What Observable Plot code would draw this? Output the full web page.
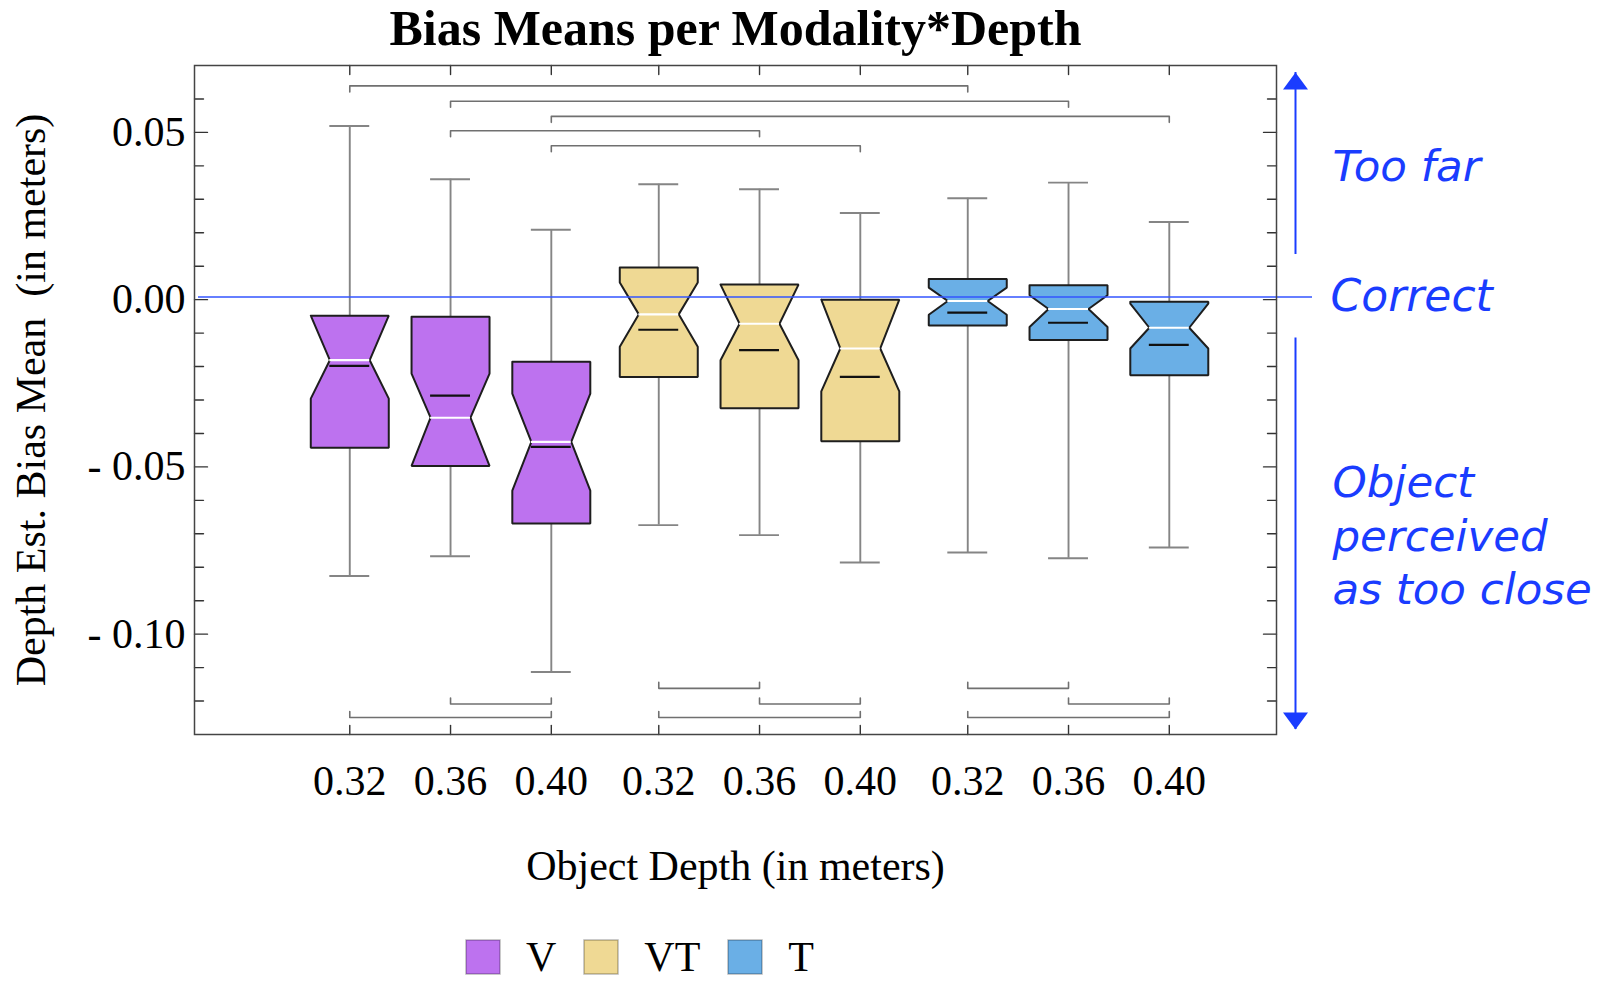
<!DOCTYPE html>
<html><head><meta charset="utf-8">
<script src="https://cdn.jsdelivr.net/npm/d3@7"></script>
<script src="https://cdn.jsdelivr.net/npm/@observablehq/plot@0.6"></script>
<style>
html,body{margin:0;padding:0;background:#fff;overflow:hidden;}
.leg-swatches{font-family:"Liberation Serif","Times New Roman",serif;font-size:42px;margin:0;padding:0;color:#000;line-height:40px;}
.leg-swatch{margin-right:28px;}
.leg-swatch > svg{margin-right:26px;}
.leg-swatch rect{stroke:rgba(0,0,0,0.28);stroke-width:1.5px;}
</style></head><body><div id="chart"></div>
<script>
// ---- data ----
const modalities = ["V", "VT", "T"];
const modalityColors = ["#bd72ef", "#efd994", "#6aafe6"];
const boxModality = ["V", "V", "V", "VT", "VT", "VT", "T", "T", "T"];
const boxDepth = ["0.32", "0.36", "0.40", "0.32", "0.36", "0.40", "0.32", "0.36", "0.40"];
const whiskerHigh = [0.0519, 0.0360, 0.0209, 0.0345, 0.0330, 0.0259, 0.0303, 0.0350, 0.0232];
const q3 = [-0.0048, -0.0051, -0.0186, 0.0096, 0.0045, 0.0000, 0.0062, 0.0043, -0.0006];
const notchHigh = [-0.0048, -0.0221, -0.0281, 0.0051, 0.0045, 0.0000, 0.0036, 0.0013, -0.0012];
const median = [-0.0181, -0.0353, -0.0425, -0.0044, -0.0072, -0.0146, -0.0004, -0.0028, -0.0084];
const mean = [-0.0198, -0.0287, -0.0440, -0.0090, -0.0151, -0.0231, -0.0039, -0.0069, -0.0135];
const notchLow = [-0.0296, -0.0497, -0.0571, -0.0141, -0.0181, -0.0274, -0.0045, -0.0082, -0.0146];
const q1 = [-0.0443, -0.0497, -0.0669, -0.0231, -0.0325, -0.0423, -0.0077, -0.0121, -0.0226];
const whiskerLow = [-0.0826, -0.0767, -0.1113, -0.0674, -0.0704, -0.0786, -0.0756, -0.0773, -0.0741];

const bracketTopFrom = [0, 1, 2, 1, 2];
const bracketTopTo = [6, 7, 8, 4, 5];
const bracketTopLevel = [0.0639, 0.0593, 0.0548, 0.0505, 0.0460];
const bracketBottomFrom = [1, 0, 3, 4, 3, 6, 7, 6];
const bracketBottomTo = [2, 2, 4, 5, 5, 7, 8, 8];
const bracketBottomLevel = [-0.1209, -0.1249, -0.1162, -0.1209, -0.1249, -0.1162, -0.1209, -0.1249];

const correctLevel = 0.0008;
const correctLabel = "Correct";
const arrowFrom = [0.0135, -0.0115];
const arrowTo = [0.0679, -0.1285];
const arrowLabels = ["Too far", "Object\nperceived\nas too close"];

const yTickValues = [-0.10, -0.05, 0.00, 0.05];
const yTickLabels = ["- 0.10", "- 0.05", "0.00", "0.05"];
const title = "Bias Means per Modality*Depth";
const xTitle = "Object Depth (in meters)";
const yTitle = "Depth Est. Bias Mean\u00a0 (in meters)";

// ---- layout ----
const groupStep = 3.0665;
const pos = i => Math.floor(i / 3) * groupStep + (i % 3);
const xDomain = [-1.541, 9.197];
const yDomain = [-0.13, 0.07];
const boxHalf = 0.387, notchHalf = 0.198, capHalf = 0.198;
const yPerPx = (yDomain[1] - yDomain[0]) / 669;
const bracketTick = 6 * yPerPx;
const blue = "#1a3cff";
const serif = "Liberation Serif";

const boxes = boxModality.map((m, i) => ({
  i, modality: m, depth: boxDepth[i], x: pos(i),
  wHi: whiskerHigh[i], q3: q3[i], nHi: notchHigh[i], med: median[i], mean: mean[i],
  nLo: notchLow[i], q1: q1[i], wLo: whiskerLow[i]
}));

const outline = boxes.flatMap(b => {
  const L = b.x - boxHalf, R = b.x + boxHalf, nl = b.x - notchHalf, nr = b.x + notchHalf;
  return [[L, b.q3], [R, b.q3], [R, b.nHi], [nr, b.med], [R, b.nLo], [R, b.q1],
          [L, b.q1], [L, b.nLo], [nl, b.med], [L, b.nHi], [L, b.q3]]
    .map(([x, y]) => ({id: b.i, modality: b.modality, x, y}));
});

const brackets = [];
bracketTopFrom.forEach((f, k) => {
  const a = pos(f), b = pos(bracketTopTo[k]), l = bracketTopLevel[k];
  [[a, l - bracketTick], [a, l], [b, l], [b, l - bracketTick]].forEach(([x, y]) => brackets.push({id: "t" + k, x, y}));
});
bracketBottomFrom.forEach((f, k) => {
  const a = pos(f), b = pos(bracketBottomTo[k]), l = bracketBottomLevel[k];
  [[a, l + bracketTick], [a, l], [b, l], [b, l + bracketTick]].forEach(([x, y]) => brackets.push({id: "b" + k, x, y}));
});

const arrows = arrowFrom.map((f, i) => ({from: f, to: arrowTo[i], label: arrowLabels[i]}));

const minorY = d3.range(-12, 7).map(k => k / 100).filter(v => !yTickValues.some(t => Math.abs(t - v) < 1e-9));
const tickShape = {draw(context, l) { context.moveTo(0, 0); context.lineTo(0, -l); }};
const headShape = {draw(context) { context.moveTo(0, 0); context.lineTo(12.5, 17); context.lineTo(-12.5, 17); context.closePath(); }};
const tickStyle = {anchor: "start", shape: tickShape, stroke: "#333", strokeWidth: 1.4};

const chart = Plot.plot({
  width: 1607, height: 937,
  marginTop: 65, marginBottom: 203, marginLeft: 194, marginRight: 331,
  x: {domain: xDomain, axis: null},
  y: {domain: yDomain, axis: null},
  color: {domain: modalities, range: modalityColors},
  style: {fontFamily: serif, background: "white", overflow: "visible"},
  marks: [
    // frame ticks
    Plot.vector(yTickValues, {y: d => d, frameAnchor: "left", rotate: 90, length: 13, ...tickStyle}),
    Plot.vector(minorY, {y: d => d, frameAnchor: "left", rotate: 90, length: 9, ...tickStyle}),
    Plot.vector(yTickValues, {y: d => d, frameAnchor: "right", rotate: -90, length: 13, ...tickStyle}),
    Plot.vector(minorY, {y: d => d, frameAnchor: "right", rotate: -90, length: 9, ...tickStyle}),
    Plot.vector(boxes, {x: "x", frameAnchor: "bottom", rotate: 0, length: 9, ...tickStyle}),
    Plot.vector(boxes, {x: "x", frameAnchor: "top", rotate: 180, length: 9, ...tickStyle}),
    // brackets
    Plot.line(brackets, {x: "x", y: "y", z: "id", stroke: "#707070", strokeWidth: 1.6}),
    // whiskers
    Plot.ruleX(boxes, {x: "x", y1: "wLo", y2: "wHi", stroke: "#858585", strokeWidth: 1.9}),
    Plot.ruleY(boxes, {y: "wHi", x1: d => d.x - capHalf, x2: d => d.x + capHalf, stroke: "#858585", strokeWidth: 1.9}),
    Plot.ruleY(boxes, {y: "wLo", x1: d => d.x - capHalf, x2: d => d.x + capHalf, stroke: "#858585", strokeWidth: 1.9}),
    // notched boxes
    Plot.line(outline, {x: "x", y: "y", z: "id", fill: "modality", stroke: "#1e1e1e", strokeWidth: 2, strokeLinejoin: "miter"}),
    Plot.ruleY(boxes, {y: "med", x1: d => d.x - notchHalf, x2: d => d.x + notchHalf, stroke: "white", strokeWidth: 2.2}),
    Plot.ruleY(boxes, {y: "mean", x1: d => d.x - notchHalf, x2: d => d.x + notchHalf, stroke: "#111", strokeWidth: 2.2}),
    // correct line
    Plot.ruleY([correctLevel], {y: d => d, insetLeft: 4, insetRight: -36, stroke: "#3355ff", strokeWidth: 1.5}),
    Plot.frame({stroke: "#444", strokeWidth: 1.5}),
    // annotation arrows
    Plot.ruleX(arrows, {x: () => xDomain[1], y1: "from", y2: "to", dx: 19, stroke: blue, strokeWidth: 2}),
    Plot.dot(arrows, {x: () => xDomain[1], y: "to", dx: 19, symbol: headShape, rotate: d => d.to > d.from ? 0 : 180, fill: blue, stroke: "none"}),
    Plot.text(arrows, {x: () => xDomain[1], y: d => (d.from + d.to) / 2, text: "label", dx: 56, textAnchor: "start", lineAnchor: "middle", lineHeight: 1.23, fontFamily: "DejaVu Sans", fontStyle: "italic", fontSize: 43.5, fill: blue}),
    Plot.text([correctLabel], {x: () => xDomain[1], y: () => correctLevel, text: d => d, dx: 54, textAnchor: "start", lineAnchor: "middle", fontFamily: "DejaVu Sans", fontStyle: "italic", fontSize: 44, fill: blue}),
    // axis labels
    Plot.text(yTickValues, {y: d => d, text: (d, i) => yTickLabels[i], frameAnchor: "left", textAnchor: "end", lineAnchor: "middle", dx: -9, fontSize: 42, fill: "black"}),
    Plot.text(boxes, {x: "x", text: "depth", frameAnchor: "bottom", lineAnchor: "middle", dy: 47, fontSize: 42, fill: "black"}),
    Plot.text([xTitle], {text: d => d, frameAnchor: "bottom", textAnchor: "middle", lineAnchor: "middle", dy: 132, fontSize: 42, fill: "black"}),
    Plot.text([yTitle], {text: d => d, frameAnchor: "left", textAnchor: "middle", lineAnchor: "middle", rotate: -90, dx: -163, fontSize: 42, fill: "black"}),
    Plot.text([title], {text: d => d, frameAnchor: "top", textAnchor: "middle", lineAnchor: "middle", dy: -37, fontSize: 50, fontWeight: "bold", fill: "black"})
  ]
});

const legend = Plot.legend({color: {domain: modalities, range: modalityColors}, swatchSize: 34, className: "leg", marginLeft: 466});
document.getElementById("chart").append(chart, legend);
</script>
</body></html>
